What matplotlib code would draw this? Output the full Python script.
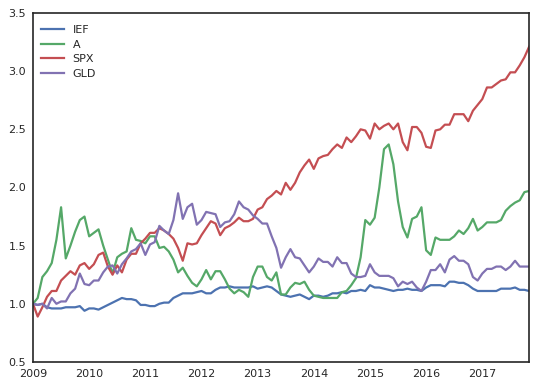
import numpy as np
import matplotlib
matplotlib.use("Agg")
import matplotlib.pyplot as plt

years = [2009, 2010, 2011, 2012, 2013, 2014, 2015, 2016, 2017]
start_year = 2009

IEF = [1.00, 0.99, 1.00, 0.97, 0.96, 0.96, 0.96, 0.97, 0.97, 0.97, 0.98, 0.94,
       0.96, 0.96, 0.95, 0.97, 0.99, 1.01, 1.03, 1.05, 1.04, 1.04, 1.03, 0.99,
       0.99, 0.98, 0.98, 1.00, 1.01, 1.01, 1.05, 1.07, 1.09, 1.09, 1.09, 1.10,
       1.11, 1.09, 1.09, 1.12, 1.14, 1.14, 1.15, 1.14, 1.14, 1.14, 1.14, 1.15,
       1.13, 1.14, 1.15, 1.14, 1.11, 1.08, 1.07, 1.06, 1.07, 1.08, 1.06, 1.04,
       1.07, 1.07, 1.06, 1.07, 1.09, 1.09, 1.10, 1.09, 1.11, 1.11, 1.12, 1.11,
       1.16, 1.14, 1.14, 1.13, 1.12, 1.11, 1.12, 1.12, 1.13, 1.12, 1.12, 1.11,
       1.14, 1.16, 1.16, 1.16, 1.15, 1.19, 1.19, 1.18, 1.18, 1.16, 1.13, 1.11,
       1.11, 1.11, 1.11, 1.11, 1.13, 1.13, 1.13, 1.14, 1.12, 1.12, 1.11]

A = [1.00, 1.05, 1.23, 1.28, 1.35, 1.55, 1.83, 1.39, 1.50, 1.62, 1.72, 1.75,
     1.58, 1.61, 1.64, 1.50, 1.38, 1.26, 1.40, 1.43, 1.45, 1.65, 1.55, 1.54,
     1.52, 1.58, 1.58, 1.48, 1.49, 1.45, 1.38, 1.27, 1.31, 1.24, 1.18, 1.15,
     1.21, 1.29, 1.21, 1.28, 1.28, 1.21, 1.13, 1.09, 1.12, 1.10, 1.06, 1.23,
     1.32, 1.32, 1.23, 1.20, 1.27, 1.08, 1.08, 1.14, 1.18, 1.17, 1.19, 1.12,
     1.07, 1.06, 1.05, 1.05, 1.05, 1.05, 1.10, 1.11, 1.16, 1.22, 1.40, 1.72,
     1.68, 1.74, 2.00, 2.33, 2.37, 2.20, 1.88, 1.66, 1.57, 1.73, 1.75, 1.83,
     1.46, 1.42, 1.57, 1.55, 1.55, 1.55, 1.58, 1.63, 1.60, 1.65, 1.73, 1.63,
     1.66, 1.70, 1.70, 1.70, 1.72, 1.80, 1.84, 1.87, 1.89, 1.96, 1.97]

SPX = [1.00, 0.89, 0.97, 1.06, 1.11, 1.11, 1.20, 1.24, 1.28, 1.25, 1.33, 1.35,
       1.30, 1.34, 1.42, 1.44, 1.32, 1.25, 1.33, 1.27, 1.38, 1.43, 1.43, 1.52,
       1.56, 1.61, 1.61, 1.65, 1.63, 1.60, 1.56, 1.48, 1.37, 1.52, 1.51, 1.52,
       1.59, 1.65, 1.71, 1.69, 1.59, 1.65, 1.67, 1.70, 1.74, 1.71, 1.71, 1.73,
       1.81, 1.83, 1.90, 1.93, 1.97, 1.94, 2.04, 1.98, 2.04, 2.13, 2.19, 2.24,
       2.16, 2.25, 2.27, 2.28, 2.33, 2.37, 2.34, 2.43, 2.39, 2.44, 2.50, 2.49,
       2.42, 2.55, 2.50, 2.53, 2.55, 2.50, 2.55, 2.39, 2.32, 2.52, 2.52, 2.47,
       2.35, 2.34, 2.49, 2.50, 2.54, 2.54, 2.63, 2.63, 2.63, 2.57, 2.66, 2.71,
       2.76, 2.86, 2.86, 2.89, 2.92, 2.93, 2.99, 2.99, 3.05, 3.12, 3.21]

GLD = [1.00, 0.99, 1.00, 0.96, 1.05, 1.00, 1.02, 1.02, 1.09, 1.13, 1.26, 1.17,
       1.16, 1.20, 1.20, 1.27, 1.32, 1.33, 1.26, 1.34, 1.39, 1.45, 1.47, 1.52,
       1.42, 1.51, 1.53, 1.67, 1.63, 1.60, 1.72, 1.95, 1.73, 1.83, 1.86, 1.68,
       1.72, 1.79, 1.78, 1.77, 1.66, 1.70, 1.71, 1.77, 1.88, 1.83, 1.81, 1.76,
       1.73, 1.69, 1.69, 1.58, 1.48, 1.31, 1.40, 1.47, 1.40, 1.39, 1.33, 1.27,
       1.32, 1.39, 1.36, 1.36, 1.32, 1.40, 1.35, 1.35, 1.26, 1.23, 1.23, 1.24,
       1.34, 1.27, 1.24, 1.24, 1.24, 1.22, 1.15, 1.19, 1.17, 1.19, 1.14, 1.11,
       1.19, 1.29, 1.29, 1.34, 1.27, 1.38, 1.41, 1.37, 1.37, 1.34, 1.23, 1.20,
       1.26, 1.30, 1.30, 1.32, 1.32, 1.29, 1.32, 1.37, 1.32, 1.32, 1.32]

series_names = ["IEF", "A", "SPX", "GLD"]
series = [IEF, A, SPX, GLD]
colors = ["#4C72B0", "#55A868", "#C44E52", "#8172B2"]
yticks = [0.5, 1.0, 1.5, 2.0, 2.5, 3.0, 3.5]

plt.rcParams["font.family"] = ["DejaVu Sans"]

fig = plt.figure(figsize=(5.41, 3.83), dpi=100)
ax = fig.add_axes([0.061, 0.055, 0.917, 0.911])

n = len(IEF)
x = start_year + np.arange(n) / 12.0
for name, vals, c in zip(series_names, series, colors):
    ax.plot(x, vals, color=c, lw=1.6, label=name)

ax.set_xlim(x[0], x[-1])
ax.set_ylim(0.5, 3.5)
ax.set_yticks(yticks)
ax.set_yticklabels([f"{v:.1f}" for v in yticks])
ax.set_xticks(years)
ax.set_xticklabels([str(y) for y in years])
ax.tick_params(length=0, labelsize=8, colors="#262626", pad=5)
for s in ax.spines.values():
    s.set_color("#262626")
    s.set_linewidth(1.2)

leg = ax.legend(loc="upper left", bbox_to_anchor=(0.0, 0.99), frameon=False,
                fontsize=8, handlelength=2.0, handletextpad=0.8,
                labelspacing=0.42, borderaxespad=0.35)
for t in leg.get_texts():
    t.set_color("#262626")

fig.savefig("out.png", dpi=100)
